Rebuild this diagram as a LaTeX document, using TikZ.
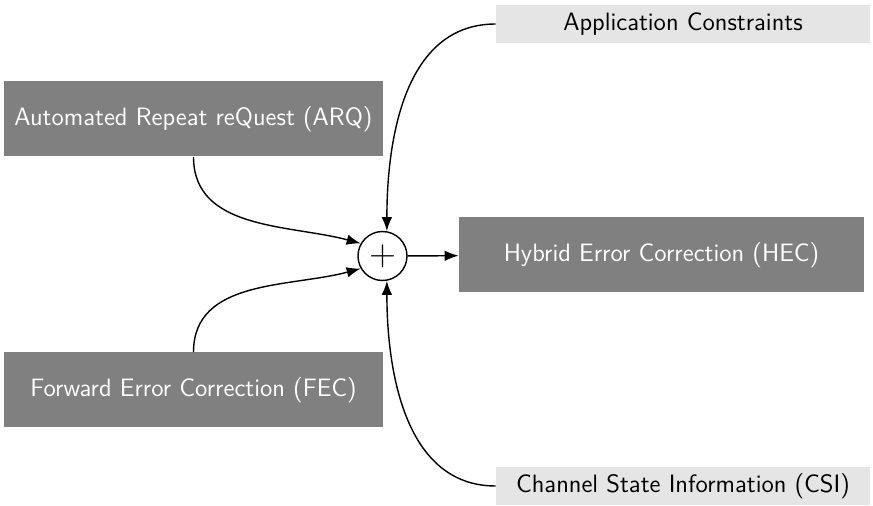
\documentclass[tikz,border=0pt]{standalone}
\usepackage{tikz}
\usetikzlibrary{arrows.meta}
\renewcommand{\familydefault}{\sfdefault}

\begin{document}
\begin{tikzpicture}[
    darkbox/.style={fill=gray, text=white, minimum width=7.58cm, minimum height=1.5cm, inner sep=0pt},
    lightbox/.style={fill=gray!20, text=black, minimum width=7.48cm, minimum height=0.75cm, inner sep=0pt},
    link/.style={-{Latex[length=2.8mm, width=2.1mm]}, thick},
    font=\fontsize{14.3}{17}\selectfont]
    \useasboundingbox (0,0) rectangle (17.46,10.1);
        \node(plus)[draw, thick, shape=circle, minimum size=0.98cm, inner sep=0pt, font=\fontsize{21}{21}\selectfont] at(7.65,4.98) {+};
   \node(arq)[darkbox] at (3.87, 7.72) {Automated Repeat reQuest (ARQ)};
    \node(fec)[darkbox] at (3.87, 2.30) {Forward Error Correction (FEC)};
    \node(hec)[darkbox, minimum width=8.1cm] at (13.23, 5.0) {Hybrid Error Correction (HEC)};
    \node(app)[lightbox] at (13.66, 9.62) {Application Constraints};
    \node(csi)[lightbox] at (13.66, 0.38) {Channel State Information (CSI)};
    \draw[link] (arq.south) to[out=-90, in=165] (plus.150);
    \draw[link] (fec.north) to[out=90, in=195] (plus.210);
    \draw[link] (app.west) to[out=180, in=90] (plus.80);
    \draw[link] (csi.west) to[out=180, in=-90] (plus.-80);
    \draw[link] (plus) -- (hec);
    \end{tikzpicture}
\end{document}
